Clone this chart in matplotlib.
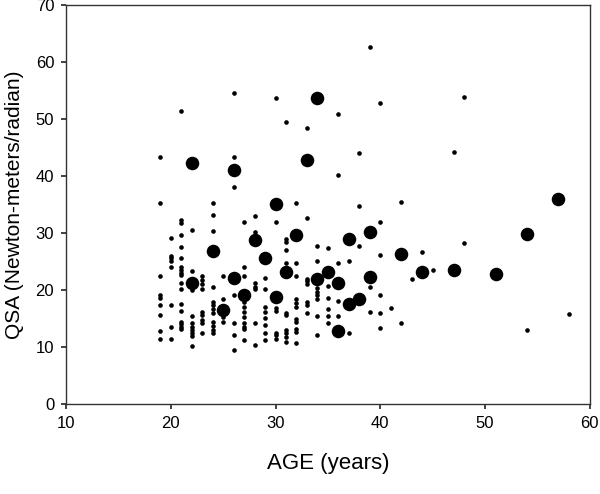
import matplotlib
matplotlib.use("Agg")
import matplotlib.pyplot as plt

plt.rcParams['font.family'] = ['Liberation Sans', 'DejaVu Sans']

# --- Data (age in years, QSA in N-m/rad) ---
# small dots, one line per age column
small_age = (
    [19] * 9 + [20] * 8 + [21] * 18 + [22] * 10 + [23] * 9 + [24] * 12
    + [25] * 4 + [26] * 7 + [27] * 11 + [28] * 7 + [29] * 8 + [30] * 7
    + [31] * 11 + [32] * 11 + [33] * 8 + [34] * 8 + [35] * 6 + [36] * 5
    + [37] * 2 + [38] * 3 + [39] * 3 + [40] * 6 + [41] + [42] * 2 + [43]
    + [44] + [45] + [47] + [48] * 2 + [54] + [58]
)
small_qsa = [
    43.4, 35.2, 22.5, 19.1, 18.6, 17.3, 15.7, 12.8, 11.5,
    29.2, 26.0, 25.6, 25.1, 24.1, 17.3, 13.5, 11.5,
    51.4, 32.3, 31.8, 29.6, 27.5, 25.7, 24.0, 23.5, 23.0, 22.6, 21.3, 20.1,
    17.5, 16.4, 14.4, 14.0, 13.6, 13.1,
    30.5, 23.4, 20.0, 15.4, 14.2, 13.6, 13.0, 12.4, 11.9, 10.2,
    22.5, 21.8, 21.1, 20.1, 16.2, 15.6, 14.7, 14.2, 12.5,
    35.3, 33.2, 30.4, 20.6, 17.9, 17.4, 16.6, 15.9, 14.4, 13.7, 13.0, 12.4,
    22.5, 18.5, 15.3, 14.4,
    54.5, 43.3, 38.0, 19.1, 14.3, 12.1, 9.5,
    32.0, 24.0, 22.5, 17.9, 17.1, 16.2, 15.3, 14.3, 13.6, 13.1, 11.2,
    33.0, 30.1, 21.2, 20.6, 20.1, 14.3, 10.4,
    22.2, 20.1, 17.1, 16.2, 15.1, 13.9, 12.5, 11.2,
    53.7, 32.0, 16.8, 16.4, 12.5, 12.1, 11.5,
    49.5, 28.9, 28.5, 27.1, 24.8, 16.0, 15.6, 13.0, 12.5, 11.7, 10.9,
    35.3, 24.8, 22.5, 18.4, 17.8, 17.1, 14.9, 14.4, 13.1, 12.7, 10.8,
    48.4, 32.6, 22.0, 21.6, 21.1, 17.9, 17.4, 16.0,
    27.7, 25.1, 20.3, 19.7, 19.2, 18.5, 15.4, 12.1,
    27.4, 20.7, 18.6, 16.7, 15.4, 14.3,
    50.8, 40.1, 24.8, 18.1, 15.4,
    25.1, 12.5,
    44.1, 34.8, 27.7,
    62.6, 20.6, 16.1,
    52.8, 31.9, 26.1, 19.2, 15.9, 13.3,
    16.8,
    35.4, 14.2,
    21.9,
    26.7,
    23.6,
    44.2,
    53.8, 28.3,
    13.0,
    15.8,
]

# large dots
big_age = [22, 22, 24, 25, 26, 26, 27, 28, 29, 30, 30, 31, 32, 33, 34,
           34, 35, 36, 36, 37, 37, 38, 39, 39, 42, 44, 47, 51, 54, 57]
big_qsa = [42.3, 21.2, 26.9, 16.5, 41.1, 22.1, 19.1, 28.7, 25.7, 35.1,
           18.8, 23.2, 29.6, 42.8, 53.7, 22.0, 23.2, 21.3, 12.8, 29.0,
           17.5, 18.5, 30.1, 22.3, 26.3, 23.2, 23.6, 22.9, 29.9, 35.9]

x_ticks = [10, 20, 30, 40, 50, 60]
y_ticks = [0, 10, 20, 30, 40, 50, 60, 70]

fig = plt.figure(figsize=(6.0, 4.94), dpi=100)
ax = fig.add_axes([0.11, 0.182, 0.873, 0.808])

ax.scatter(small_age, small_qsa, s=11, color='black', linewidths=0, zorder=3)
ax.scatter(big_age, big_qsa, s=95, color='black', linewidths=0, zorder=4)

ax.set_xlim(10, 60)
ax.set_ylim(0, 70)
ax.set_xticks(x_ticks)
ax.set_yticks(y_ticks)
ax.tick_params(direction='out', length=3.5, width=1.2, labelsize=12,
               color='#222222', pad=5)
for lbl in ax.get_xticklabels() + ax.get_yticklabels():
    lbl.set_fontstretch('expanded')
for sp in ax.spines.values():
    sp.set_linewidth(1.0)
    sp.set_color('#333333')

ax.set_xlabel('AGE (years)', fontsize=16, labelpad=16)
ax.set_ylabel('QSA (Newton-meters/radian)', fontsize=15, labelpad=8)

fig.savefig('out.png', dpi=100)
